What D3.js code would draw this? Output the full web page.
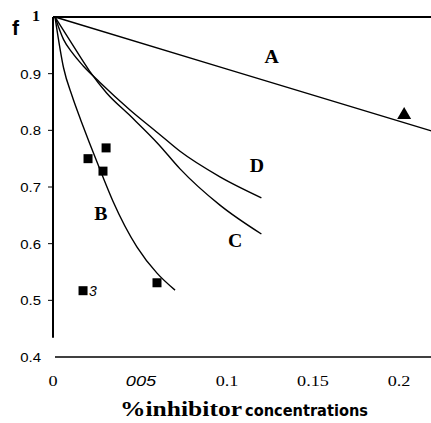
<!DOCTYPE html>
<html>
<head>
<meta charset="utf-8">
<script src="https://cdn.jsdelivr.net/npm/d3@7"></script>
<style>
  body { margin: 0; background: #fff; }
  svg { display: block; }
</style>
</head>
<body>
<svg id="chart" width="431" height="423"></svg>
<script>
// Tick values and their printed labels
const xTicks = [0, 0.05, 0.1, 0.15, 0.2];
const xTickLabels = ['0', '005', '0.1', '0.15', '0.2'];
const yTicks = [1, 0.9, 0.8, 0.7, 0.6, 0.5, 0.4];
const yTickLabels = ['1', '0.9', '0.8', '0.7', '0.6', '0.5', '0.4'];

// Curves: [concentration, f]
const curveA = [[0, 1], [0.1, 0.908], [0.22, 0.798]];
const curveB = [[0, 1], [0.005, 0.91], [0.01, 0.86], [0.015, 0.818], [0.02, 0.778],
  [0.0273, 0.722], [0.0337, 0.675], [0.0477, 0.594], [0.0593, 0.548], [0.0698, 0.518]];
const curveC = [[0, 1], [0.01, 0.952], [0.02, 0.905], [0.03, 0.866], [0.0436, 0.826],
  [0.06, 0.776], [0.0727, 0.732], [0.0959, 0.668], [0.12, 0.617]];
const curveD = [[0, 1], [0.005, 0.96], [0.01, 0.937], [0.0163, 0.914], [0.026, 0.885],
  [0.0436, 0.836], [0.06, 0.795], [0.0727, 0.763], [0.0959, 0.718], [0.12, 0.681]];

// Measured points
const squares = [[0.0192, 0.75], [0.0297, 0.769], [0.0279, 0.728], [0.0593, 0.531], [0.0163, 0.517]];
const triangles = [[0.203, 0.827]];

// Curve labels (baseline positions)
const curveLabels = [
  { text: 'A', x: 0.126, y: 0.919 },
  { text: 'B', x: 0.0267, y: 0.642 },
  { text: 'C', x: 0.1047, y: 0.594 },
  { text: 'D', x: 0.1174, y: 0.727 }
];

const svg = d3.select('#chart');

const x = d3.scaleLinear().domain([0, 0.22]).range([55, 433.4]);
const y = d3.scaleLinear().domain([0.4, 1]).range([357, 17]);

const serif = "'Liberation Serif', 'Times New Roman', serif";
const sans = "'Liberation Sans', Arial, sans-serif";

// Frame lines
svg.append('line')
  .attr('x1', 53).attr('x2', 431)
  .attr('y1', y(1)).attr('y2', y(1))
  .attr('stroke', '#000').attr('stroke-width', 2);

svg.append('line')
  .attr('x1', 53).attr('x2', 53)
  .attr('y1', y(1)).attr('y2', y(0.434))
  .attr('stroke', '#000').attr('stroke-width', 2);

svg.append('line')
  .attr('x1', 55).attr('x2', 431)
  .attr('y1', y(0.4)).attr('y2', y(0.4))
  .attr('stroke', '#000').attr('stroke-width', 1.6);

// Y ticks
yTicks.forEach((t, i) => {
  if (t > 0.4 && t < 1) {
    svg.append('line')
      .attr('x1', 48).attr('x2', 53)
      .attr('y1', y(t)).attr('y2', y(t))
      .attr('stroke', '#000').attr('stroke-width', 1);
  }
  svg.append('text')
    .attr('transform', `translate(${t === 1 ? 40 : 41},${y(t) + (t === 1 ? 4 : 5)}) scale(1.15,1)`)
    .attr('text-anchor', 'end')
    .style('font-family', t === 1 ? serif : sans)
    .style('font-size', t === 1 ? '14px' : '13px')
    .style('font-weight', t === 1 ? 'bold' : 'normal')
    .text(yTickLabels[i]);
});

// X tick labels
xTicks.forEach((t, i) => {
  svg.append('text')
    .attr('transform', `translate(${x(t) - (t === 0 ? 2 : 0)},386) scale(1.3,1)`)
    .attr('text-anchor', 'middle')
    .style('font-family', t === 0.05 ? sans : serif)
    .style('font-style', t === 0.05 ? 'italic' : 'normal')
    .style('font-size', '14px')
    .text(xTickLabels[i]);
});

// Curves
const line = d3.line()
  .x(d => x(d[0]))
  .y(d => y(d[1]))
  .curve(d3.curveMonotoneX);

[curveA, curveB, curveC, curveD].forEach(c => {
  svg.append('path')
    .datum(c)
    .attr('d', line)
    .attr('fill', 'none')
    .attr('stroke', '#000')
    .attr('stroke-width', 1.4);
});

// Square markers
svg.selectAll('rect.sq')
  .data(squares)
  .enter()
  .append('rect')
  .attr('class', 'sq')
  .attr('x', d => x(d[0]) - 4.5)
  .attr('y', d => y(d[1]) - 4.5)
  .attr('width', 9)
  .attr('height', 9)
  .attr('fill', '#000');

// Triangle markers
svg.selectAll('path.tri')
  .data(triangles)
  .enter()
  .append('path')
  .attr('class', 'tri')
  .attr('d', d3.symbol().type(d3.symbolTriangle).size(85))
  .attr('transform', d => `translate(${x(d[0])},${y(d[1])})`)
  .attr('fill', '#000');

// "3" beside the lone square
svg.append('text')
  .attr('x', x(0.0163) + 6)
  .attr('y', y(0.517) + 5)
  .style('font-family', sans)
  .style('font-style', 'italic')
  .style('font-size', '14px')
  .text('3');

// Curve letters
svg.selectAll('text.lab')
  .data(curveLabels)
  .enter()
  .append('text')
  .attr('class', 'lab')
  .attr('transform', d => `translate(${x(d.x)},${y(d.y)}) scale(1.1,1)`)
  .attr('text-anchor', 'middle')
  .style('font-family', serif)
  .style('font-weight', 'bold')
  .style('font-size', '18px')
  .text(d => d.text);

// Y axis title
svg.append('text')
  .attr('x', 12)
  .attr('y', 35)
  .style('font-family', sans)
  .style('font-weight', 'bold')
  .style('font-size', '21px')
  .text('f');

// X axis title: two fonts, as in the figure
svg.append('text')
  .attr('x', 120)
  .attr('y', 416)
  .attr('textLength', 122)
  .attr('lengthAdjust', 'spacingAndGlyphs')
  .style('font-family', serif)
  .style('font-weight', 'bold')
  .style('font-size', '20px')
  .text('%inhibitor');

svg.append('text')
  .attr('x', 245)
  .attr('y', 416)
  .attr('textLength', 123)
  .attr('lengthAdjust', 'spacingAndGlyphs')
  .style('font-family', "'DejaVu Sans', sans-serif")
  .style('font-weight', 'bold')
  .style('font-size', '16px')
  .text('concentrations');
</script>
</body>
</html>
